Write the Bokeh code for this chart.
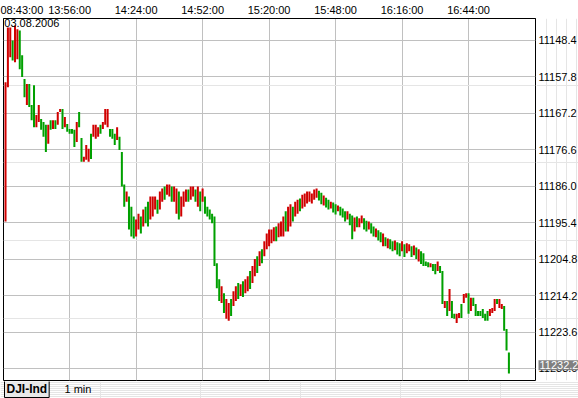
from bokeh.plotting import figure
from bokeh.layouts import column, row
from bokeh.models import Range1d, FixedTicker, Label, ColumnDataSource, Grid
from bokeh.core.properties import value
from bokeh.embed import file_html
from bokeh.resources import INLINE

# ---- data (1-minute bars, DJI-Ind, 03.08.2006) ----
lo = [11159.2, 11145.1, 11145.1, 11148.5, 11144.6, 11145.6, 11145.9, 11152.3, 11158.4, 11159.7,
      11159.7, 11165.1, 11160.0, 11167.7, 11165.1, 11168.7, 11169.5, 11170.2, 11170.2, 11169.0,
      11169.0, 11169.0, 11166.9, 11166.1, 11166.1, 11168.2, 11170.0, 11171.3, 11171.3, 11171.5,
      11169.5, 11166.9, 11173.6, 11178.4, 11175.4, 11176.4, 11172.5, 11170.2, 11170.2, 11170.8,
      11170.2, 11169.5, 11166.1, 11166.1, 11171.3, 11171.3, 11172.5, 11170.8, 11173.3, 11177.2,
      11185.6, 11187.4, 11188.7, 11191.3, 11193.8, 11194.6, 11193.1, 11193.8, 11192.0, 11191.3,
      11190.0, 11188.7, 11188.7, 11188.7, 11189.5, 11187.4, 11186.6, 11186.1, 11185.6, 11185.6,
      11186.1, 11186.1, 11186.6, 11187.4, 11188.7, 11187.4, 11186.9, 11186.9, 11186.1, 11186.1,
      11186.9, 11186.1, 11187.4, 11186.6, 11188.7, 11191.3, 11192.0, 11193.1, 11193.8, 11205.9,
      11210.0, 11211.8, 11213.6, 11215.1, 11216.1, 11215.1, 11213.1, 11211.8, 11211.0, 11211.3,
      11210.5, 11210.0, 11209.2, 11207.9, 11206.6, 11204.8, 11204.1, 11202.8, 11202.3, 11200.2,
      11198.2, 11197.2, 11197.2, 11196.6, 11196.4, 11195.6, 11195.1, 11193.8, 11192.5, 11191.3,
      11190.7, 11191.3, 11190.0, 11189.5, 11189.2, 11188.2, 11187.9, 11187.4, 11187.4, 11187.9,
      11186.9, 11186.6, 11187.2, 11187.7, 11188.4, 11189.0, 11189.5, 11190.0, 11190.2, 11190.7,
      11191.0, 11191.3, 11191.8, 11192.5, 11192.5, 11193.1, 11193.6, 11194.1, 11193.8, 11194.3,
      11193.6, 11194.3, 11194.9, 11195.1, 11195.6, 11196.4, 11196.9, 11197.4, 11197.9, 11198.2,
      11199.2, 11199.5, 11199.7, 11200.2, 11200.0, 11200.5, 11200.7, 11200.2, 11201.0, 11200.7,
      11201.0, 11201.5, 11201.3, 11201.8, 11202.3, 11202.8, 11203.3, 11205.4, 11205.6, 11205.9,
      11206.1, 11206.1, 11205.4, 11206.6, 11207.9, 11215.6, 11215.6, 11212.5, 11215.6, 11218.9,
      11218.9, 11218.7, 11216.4, 11213.8, 11213.6, 11213.6, 11214.8, 11214.8, 11216.4, 11218.2,
      11218.2, 11217.7, 11218.9, 11218.2, 11217.7, 11217.4, 11215.1, 11215.1, 11215.1, 11216.4,
      11216.9, 11222.8, 11228.9]

hi = [11195.1, 11160.5, 11152.8, 11153.6, 11154.1, 11153.3, 11155.9, 11157.9, 11163.1, 11165.1,
      11165.6, 11169.0, 11170.8, 11170.8, 11169.5, 11171.5, 11173.3, 11177.2, 11175.1, 11171.5,
      11171.3, 11171.3, 11170.2, 11166.9, 11171.3, 11170.8, 11172.0, 11172.5, 11172.5, 11175.9,
      11174.6, 11170.8, 11179.7, 11179.7, 11179.2, 11179.7, 11179.0, 11173.3, 11173.8, 11173.3,
      11172.5, 11171.3, 11170.2, 11170.8, 11173.3, 11173.8, 11175.4, 11174.1, 11176.7, 11186.1,
      11191.3, 11190.0, 11197.2, 11199.0, 11199.5, 11199.0, 11197.2, 11198.2, 11196.4, 11195.6,
      11196.4, 11194.6, 11193.8, 11192.0, 11193.1, 11192.0, 11190.0, 11189.5, 11188.2, 11188.7,
      11190.0, 11190.0, 11193.1, 11194.6, 11193.8, 11191.3, 11190.0, 11190.0, 11189.5, 11188.7,
      11190.0, 11191.3, 11192.5, 11190.0, 11193.1, 11193.8, 11194.6, 11195.6, 11206.6, 11212.3,
      11215.6, 11216.1, 11218.7, 11220.2, 11220.7, 11219.5, 11216.9, 11215.6, 11215.1, 11214.3,
      11214.6, 11213.6, 11213.1, 11212.5, 11211.0, 11209.2, 11208.4, 11206.6, 11205.9, 11204.1,
      11202.3, 11201.5, 11200.7, 11200.2, 11200.2, 11199.2, 11199.0, 11199.0, 11197.7, 11197.7,
      11196.4, 11195.1, 11193.8, 11193.1, 11192.5, 11191.8, 11191.3, 11190.5, 11190.0, 11190.5,
      11189.5, 11189.0, 11189.7, 11190.7, 11191.0, 11191.5, 11192.0, 11191.8, 11192.8, 11193.3,
      11192.5, 11193.6, 11194.1, 11195.1, 11194.6, 11196.1, 11199.7, 11197.7, 11196.6, 11196.6,
      11195.6, 11197.2, 11197.7, 11197.2, 11198.2, 11199.0, 11199.2, 11200.0, 11200.5, 11201.5,
      11201.5, 11202.0, 11202.3, 11202.8, 11202.5, 11203.6, 11204.1, 11202.8, 11204.3, 11203.3,
      11202.8, 11204.3, 11203.8, 11204.8, 11205.4, 11206.1, 11206.6, 11206.6, 11206.9, 11206.9,
      11207.9, 11208.7, 11207.9, 11208.4, 11216.4, 11217.4, 11219.5, 11218.2, 11220.0, 11220.2,
      11221.3, 11220.0, 11220.0, 11216.1, 11214.8, 11218.9, 11218.2, 11216.9, 11219.5, 11219.5,
      11219.5, 11220.0, 11220.7, 11220.7, 11219.5, 11218.7, 11218.2, 11216.4, 11217.4, 11217.7,
      11223.3, 11228.4, 11234.3]

dirs = ("rrrgrrgggr" "gggrrgggrg" "rgrrgrgggg" "rggrrrgrrr" "grrrgggrgg"
        "grgggrrgrg" "grrrgrrgrr" "grrgrrrgrr" "grgrgggggg" "grgrrgrrgr"
        "grrgrrgrgr" "rrrrgrrrgr" "rgrrgrrrrr" "rrggrggrgg" "rgggrggrgr"
        "rggrggrggr" "grggrggrgr" "rgrgrggggr" "ggrggrgrgg" "rrgrrgrggg"
        "ggggrrrgrr" "ggg")

time_ticks = [0, 27, 55, 83, 111, 139, 167, 195]
time_labels = ["08:43:00", "13:56:00", "14:24:00", "14:52:00",
               "15:20:00", "15:48:00", "16:16:00", "16:44:00"]
price_ticks = [11148.4, 11157.8, 11167.2, 11176.6, 11186.0,
               11195.4, 11204.8, 11214.2, 11223.6, 11233.0]
last_price = 11232.2
symbol = "DJI-Ind"
interval = "1 min"
date_text = "03.08.2006"

RED = "#d00000"
GREEN = "#00a000"
GRID = "#c0c0c0"
FONT = "Liberation Sans"

n = len(hi)
src = ColumnDataSource(dict(
    idx=list(range(n)), lo=lo[:n], hi=hi,
    col=[RED if d == "r" else GREEN for d in dirs[:n]],
))

# ---------------- main chart ----------------
p = figure(width=536, height=381, output_backend="svg", toolbar_location=None,
           x_axis_location="above", y_axis_location=None,
           x_range=Range1d(-0.85, 223.2), y_range=Range1d(11236.1, 11142.8),
           min_border_left=3, min_border_right=1, min_border_top=16, min_border_bottom=1,
           background_fill_color="white", border_fill_color="white")
p.outline_line_color = "black"
p.outline_line_width = 1

xa = p.xaxis[0]
xa.ticker = FixedTicker(ticks=time_ticks)
xa.major_label_overrides = {t: l for t, l in zip(time_ticks, time_labels)}
xa.major_label_text_align = "left"
xa.major_label_text_font = FONT
xa.major_label_text_font_size = "11px"
xa.major_label_text_color = "black"
xa.major_label_standoff = 3
xa.major_tick_line_color = None
xa.minor_tick_line_color = None
xa.major_tick_out = 0
xa.major_tick_in = 0
xa.axis_line_color = "black"

p.xgrid.ticker = FixedTicker(ticks=time_ticks[1:])
p.xgrid.grid_line_color = GRID
p.add_layout(Grid(dimension=1, ticker=FixedTicker(ticks=price_ticks), grid_line_color=GRID))

p.vbar(x="idx", top="hi", bottom="lo", width=0.85, fill_color="col", line_color=None, source=src)

p.add_layout(Label(x=-0.5, y=11143.0, text=date_text, text_font=FONT,
                   text_font_size="11px", text_color="black", text_align="left",
                   text_baseline="top"))

# ---------------- price scale (right) ----------------
side = figure(width=42, height=381, output_backend="svg", toolbar_location=None,
              x_axis_location=None, y_axis_location=None,
              x_range=Range1d(0, 42), y_range=p.y_range,
              min_border_left=0, min_border_right=0, min_border_top=16, min_border_bottom=1,
              background_fill_color="white", border_fill_color="white")
side.outline_line_color = None
side.text(x=2, y=price_ticks, text=[f"{v:.1f}" for v in price_ticks],
          text_font=value(FONT), text_font_size="11px", text_color="black",
          text_align="left", text_baseline="middle")
side.text(x=[2], y=[last_price], text=[f"{last_price:.1f}"],
          text_font=value(FONT), text_font_size="11px", text_color="white",
          text_align="left", text_baseline="middle",
          background_fill_color="#808080", padding=1)

# ---------------- symbol line (bottom) ----------------
bot = figure(width=578, height=17, output_backend="svg", toolbar_location=None,
             x_axis_location=None, y_axis_location=None,
             x_range=Range1d(0, 578), y_range=Range1d(0, 17),
             min_border_left=0, min_border_right=0, min_border_top=0, min_border_bottom=0,
             background_fill_color="white", border_fill_color="white")
bot.outline_line_color = None
bot.text(x=[4], y=[10], text=[symbol], text_font=value(FONT), text_font_style="bold",
         text_font_size="12px", text_color="black", text_align="left", text_baseline="middle",
         background_fill_color="#e8e8e8", border_line_color="black", padding=2)
bot.text(x=[64], y=[10], text=[interval], text_font=value(FONT),
         text_font_size="11px", text_color="black", text_align="left", text_baseline="middle")

layout = column(row(p, side, spacing=0), bot, spacing=0)

open("out.html", "w").write(file_html(layout, INLINE))
